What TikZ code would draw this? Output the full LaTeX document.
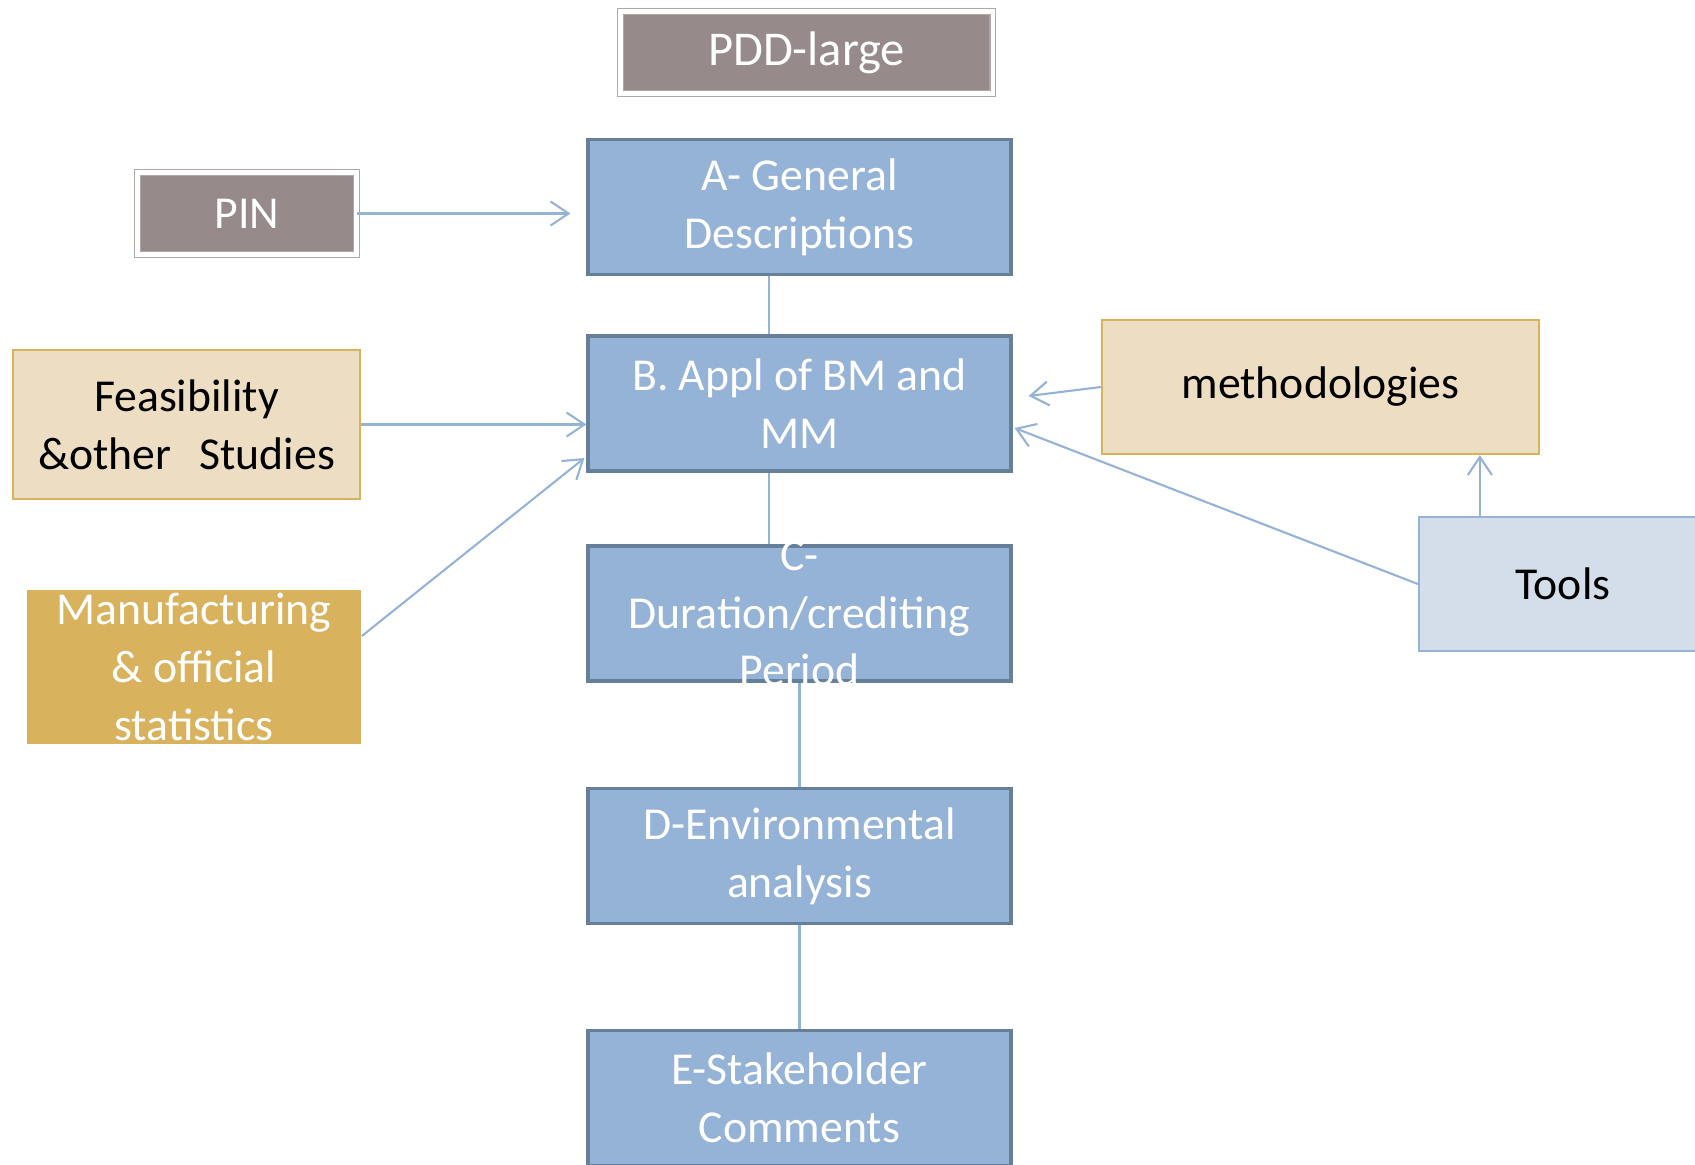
\documentclass[tikz,border=0pt]{standalone}
\usepackage{fontspec}
\setmainfont{Carlito}
\usetikzlibrary{calc, arrows.meta}

\definecolor{pddgray}{RGB}{150,139,138}
\definecolor{stepblue}{RGB}{149,179,215}
\definecolor{stepedge}{RGB}{102,128,153}
\definecolor{sandfill}{RGB}{237,221,194}
\definecolor{sandedge}{RGB}{217,178,94}
\definecolor{goldfill}{RGB}{216,178,93}
\definecolor{toolfill}{RGB}{211,222,234}

\begin{document}
\begin{tikzpicture}[x=0.01cm,y=-0.01cm,
  every node/.style={font=\fontsize{13}{16.4}\selectfont, align=center, inner sep=0pt},
  graybox/.style={draw=pddgray!75, double=white, double distance=1.2pt, line width=0.45pt,
    fill=pddgray, text=white, minimum width=3.72cm, minimum height=0.82cm},
  stepbox/.style={draw=stepedge, line width=1.1pt, fill=stepblue, text=white,
    minimum width=4.22cm, minimum height=1.35cm},
  sandbox/.style={draw=sandedge, line width=0.6pt, fill=sandfill},
  joinline/.style={stepblue, line width=0.6pt},
  link/.style={joinline, -{Straight Barb[length=1.8mm,width=2.4mm]}}]
\useasboundingbox (0,0) rectangle (1695,1164);
% Title and the main column of steps
\node[graybox] (pdd) at (806.5,52.5) {\fontsize{13.8}{16.4}\selectfont PDD-large};
\node[stepbox] (a) at (799.5,207) {A- General\\Descriptions};
\node[stepbox] (b) at (799.5,403.5) {B. Appl of BM and\\MM};
\node[stepbox] (c) at (799.5,613.5) {};
\node[stepbox] (d) at (799.5,856) {D-Environmental\\analysis};
\node[stepbox] (e) at (799.5,1098) {E-Stakeholder\\Comments};
% Inputs on the left
\node[graybox, minimum width=2.19cm] (pin) at (247,213.5) {PIN};
\node[sandbox, minimum width=3.47cm, minimum height=1.49cm] (feas) at (186.5,424.5)
  {Feasibility\\\&other\hspace{8pt}Studies};
\node[fill=goldfill, text=white, minimum width=3.34cm, minimum height=1.54cm] (manu)
  at (194,667) {Manufacturing\\\& official\\statistics};
% Inputs on the right
\node[sandbox, minimum width=4.37cm, minimum height=1.34cm] (meth) at (1320.5,387) {methodologies};
\node[draw=stepblue, line width=0.6pt, fill=toolfill, minimum width=2.88cm,
  minimum height=1.34cm] (tools) at (1563,584) {Tools};
% Plain joins down the column
\coordinate (left) at (769,0);
\draw[joinline] (a.south -| left) -- (b.north -| left);
\draw[joinline] (b.south -| left) -- (c.north -| left);
\draw[joinline] (c.south) -- (d.north);
\draw[joinline] (d.south) -- (e.north);
% Arrows into A and B
\draw[link, shorten >=0.16cm] (pin.east) -- (pin.east -| a.west);
\draw[link] (feas.east) -- (feas.east -| b.west);
\draw[link] ($(manu.east)+(0,-31)$) -- ($(b.west)+(-2,54.5)$);
\draw[link] (meth.west) -- ($(b.east)+(16,-7.5)$);
\draw[link] (tools.west) -- ($(b.east)+(2,24.5)$);
\coordinate (up) at ($(tools.north west)+(62,0)$);
\draw[link] (up) -- (up |- meth.south);
% Text of C runs over its box
\node[text=white] (ctext) at (c) {C-\\Duration/crediting\\Period};
\end{tikzpicture}
\end{document}
